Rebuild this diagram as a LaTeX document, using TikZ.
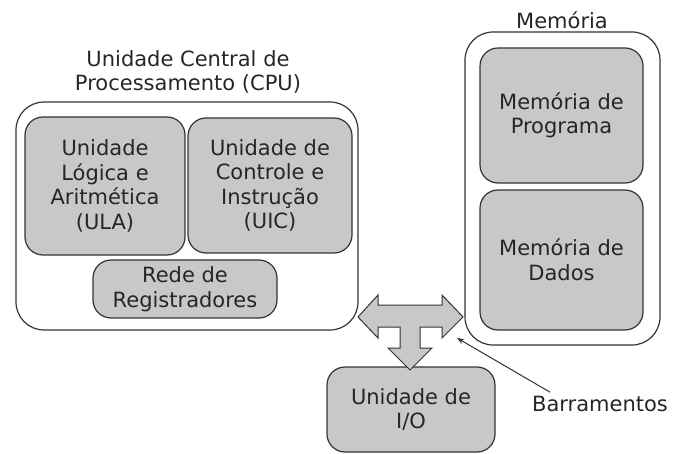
\documentclass[tikz,border=0pt]{standalone}
\usepackage{fontspec}
\setmainfont{DejaVu Sans}
\usetikzlibrary{arrows.meta}
\definecolor{boxgray}{RGB}{200,200,200}
\begin{document}
\begin{tikzpicture}[x=1pt, y=-1pt, align=center, line width=1.2pt,
  every node/.style={font=\fontsize{21}{24.5}\selectfont, text=black!85},
  outer/.style={draw=black!80, rounded corners=28pt, minimum width=#1},
  unit/.style={draw=black!80, fill=boxgray, rounded corners=18pt},
  label/.style={draw=none} ]

\useasboundingbox (0,0) rectangle (677,454);

% CPU
\node[label] (cpulbl) at (188,72) {Unidade Central de\\ Processamento (CPU)};
\node[outer=342pt, minimum height=228pt] (cpu) at (187,216) {};
\node[unit, minimum width=160pt, minimum height=138pt] (ula) at (105,186)
  {Unidade\\ Lógica e\\ Aritmética\\ (ULA)};
\node[unit, minimum width=164pt, minimum height=135pt] (uic) at (270,185.5)
  {Unidade de\\ Controle e\\ Instrução\\ (UIC)};
\node[unit, minimum width=184pt, minimum height=58pt] (rede) at (185,289)
  {Rede de\\ Registradores};

% Memoria
\node[label] (memlbl) at (562,20) {Memória};
\node[outer=195pt, minimum height=313pt] (mem) at (562.5,188.5) {};
\node[unit, minimum width=163pt, minimum height=135pt] (prog) at (561.5,115.5)
  {Memória de\\ Programa};
\node[unit, minimum width=163pt, minimum height=140pt] (dados) at (561.5,260)
  {Memória de\\ Dados};

% I/O
\node[unit, minimum width=168pt, minimum height=85pt] (io) at (411,409.5)
  {Unidade de\\ I/O};

% Barramentos
\draw[draw=black!80, fill=boxgray, line width=1pt]
  (358,317) -- (378,295) -- (378,305) -- (442,305) -- (442,295) -- (463,317)
  -- (442,338) -- (442,327) -- (420,327) -- (420,348) -- (432,348)
  -- (410,370) -- (388,348) -- (400,348) -- (400,327) -- (378,327)
  -- (378,338) -- cycle;
\coordinate (bustip) at (457,338);
\node[label] (barr) at (600,404) {Barramentos};
\draw[-{Stealth[length=7pt]}, line width=1pt, black!80] (barr.north west) ++(22,0)
  coordinate (barrstart) -- (bustip);

\end{tikzpicture}
\end{document}
